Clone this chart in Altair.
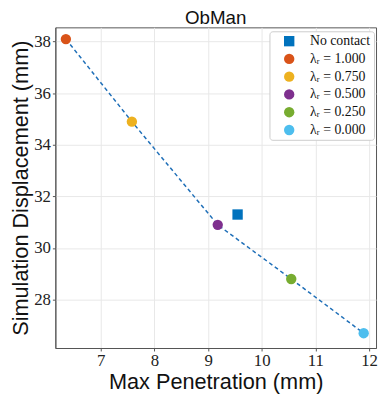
import altair as alt
import pandas as pd

labels = ["No contact", "λᵣ = 1.000", "λᵣ = 0.750", "λᵣ = 0.500", "λᵣ = 0.250", "λᵣ = 0.000"]
penetration = [9.55, 6.35, 7.58, 9.18, 10.55, 11.90]
displacement = [31.3, 38.1, 34.9, 30.9, 28.8, 26.7]
shapes = ["square", "circle", "circle", "circle", "circle", "circle"]
colors = ["#0072BD", "#D95319", "#EDB120", "#7E2F8E", "#77AC30", "#4DBEEE"]
x_ticks = [7, 8, 9, 10, 11, 12]
y_ticks = [28, 30, 32, 34, 36, 38]

df = pd.DataFrame({"label": labels, "pen": penetration, "disp": displacement})
line_df = df[df["label"] != "No contact"].sort_values("pen")

serif = "Liberation Serif"
sans = "Liberation Sans"

xscale = alt.Scale(domain=[6.154, 12.13], nice=False, zero=False)
yscale = alt.Scale(domain=[26.126, 38.554], nice=False, zero=False)

common = dict(labelFont=serif, labelFontSize=17, labelColor="#222", titleFont=sans,
              titleFontSize=22, titleFontWeight="normal", titleColor="#111",
              tickSize=3, domainColor="#555", tickColor="#555", gridColor="#e8e8e8")
xaxis = alt.Axis(title="Max Penetration (mm)", values=x_ticks, format="d",
                 labelPadding=2, titlePadding=3, **common)
yaxis = alt.Axis(title="Simulation Displacement (mm)", values=y_ticks, format="d",
                 labelPadding=2, titlePadding=1, **common)

line = alt.Chart(line_df).mark_line(strokeDash=[4, 3], strokeWidth=1.5, color="#1f6fb8").encode(
    x=alt.X("pen:Q", scale=xscale, axis=xaxis),
    y=alt.Y("disp:Q", scale=yscale, axis=yaxis),
    order="pen:Q",
)

points = alt.Chart(df).mark_point(filled=True, opacity=1, size=110).encode(
    x=alt.X("pen:Q", scale=xscale),
    y=alt.Y("disp:Q", scale=yscale),
    color=alt.Color("label:N", scale=alt.Scale(domain=labels, range=colors),
                    legend=alt.Legend(title=None, orient="none", legendX=217, legendY=4,
                                      labelFont=serif, labelFontSize=14, labelColor="#111",
                                      symbolSize=110, rowPadding=4, padding=3,
                                      symbolOffset=10, labelOffset=14,
                                      strokeColor="#cccccc", fillColor="white", cornerRadius=3,
                                      symbolOpacity=1, symbolStrokeWidth=0)),
    shape=alt.Shape("label:N", scale=alt.Scale(domain=labels, range=shapes)),
)

chart = (line + points).properties(
    width=325, height=325,
    title=alt.TitleParams("ObMan", font=sans, fontSize=19, fontWeight="normal", color="#111",
                          offset=0, dy=1),
    autosize=alt.AutoSizeParams(type="none"),
    padding={"left": 48, "top": 17, "right": 2, "bottom": 45},
).configure_view(stroke="#555", strokeWidth=1).configure_axis(grid=True)

chart.save("out.html", embed_options={"renderer": "svg", "actions": False})
